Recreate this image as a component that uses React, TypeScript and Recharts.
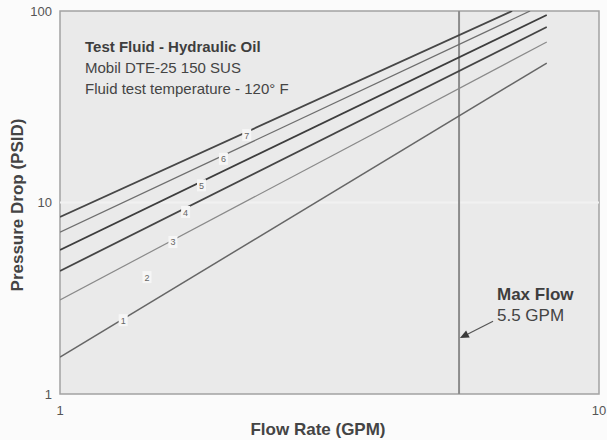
import React from 'react';
import { LineChart, Line, XAxis, YAxis, ReferenceLine, ReferenceArea, ReferenceDot } from 'recharts';

// Axis ticks
const flowTicks = [1, 10];
const pressureTicks = [1, 10, 100];
const maxFlowGpm = 5.5;

// Curves (Flow Rate GPM -> Pressure Drop PSID)
const curve1 = [{ flow: 1, dp: 1.56 }, { flow: 8, dp: 53.5 }];
const curve3 = [{ flow: 1, dp: 3.1 }, { flow: 8, dp: 68.9 }];
const curve4 = [{ flow: 1, dp: 4.39 }, { flow: 8, dp: 82.5 }];
const curve5 = [{ flow: 1, dp: 5.65 }, { flow: 8, dp: 95.3 }];
const curve6 = [{ flow: 1, dp: 7.0 }, { flow: 7.45, dp: 100 }];
const curve7 = [{ flow: 1, dp: 8.4 }, { flow: 6.9, dp: 100 }];

// Curve number labels
const curveLabels = ['1', '2', '3', '4', '5', '6', '7'];
const labelFlow = [1.31, 1.45, 1.62, 1.71, 1.83, 2.01, 2.22];
const labelDp = [2.43, 4.08, 6.22, 8.92, 12.3, 16.9, 22.5];

// Max flow arrow (tail -> tip)
const arrowFlow = [6.36, 5.52];
const arrowDp = [2.4, 1.96];

const FONT = '"Liberation Sans", Arial, Helvetica, sans-serif';

const LabelBox = (props: any) => {
  const { cx, cy, text } = props;
  if (cx == null || cy == null) return null;
  return (
    <g>
      <rect x={cx - 4.5} y={cy - 6} width={9} height={12} fill="#f6f6f6" />
      <text x={cx} y={cy + 3.5} textAnchor="middle" fontSize={9} fill="#666" fontFamily={FONT}>
        {text}
      </text>
    </g>
  );
};

const ArrowShape = (props: any) => {
  const { x1, y1, x2, y2 } = props;
  if ([x1, y1, x2, y2].some((v) => v == null || isNaN(v))) return null;
  const dx = x2 - x1;
  const dy = y2 - y1;
  const len = Math.sqrt(dx * dx + dy * dy) || 1;
  const ux = dx / len;
  const uy = dy / len;
  const hl = 9;
  const hw = 4;
  const bx = x2 - ux * hl;
  const by = y2 - uy * hl;
  const pts = `${x2},${y2} ${bx - uy * hw},${by + ux * hw} ${bx + uy * hw},${by - ux * hw}`;
  return (
    <g>
      <line x1={x1} y1={y1} x2={bx} y2={by} stroke="#555" strokeWidth={1.2} />
      <polygon points={pts} fill="#3a3a3a" />
    </g>
  );
};

export default function App() {
  return (
    <div style={{ position: 'absolute', left: 0, top: 0, width: 607, height: 440, background: '#fbfbfb', fontFamily: FONT }}>
      <LineChart
        width={607}
        height={440}
        margin={{ top: 11, right: 8, bottom: 16, left: 0 }}
        style={{ fontFamily: FONT }}
      >
        <XAxis
          dataKey="flow"
          type="number"
          scale="log"
          domain={[1, 10]}
          ticks={flowTicks}
          allowDataOverflow
          height={30}
          axisLine={false}
          tickLine={false}
          tickMargin={6}
          tick={{ fontSize: 13, fill: '#555', fontFamily: FONT }}
        />
        <YAxis
          type="number"
          scale="log"
          domain={[1, 100]}
          ticks={pressureTicks}
          allowDataOverflow
          width={60}
          axisLine={false}
          tickLine={false}
          tick={{ fontSize: 13, fill: '#555', fontFamily: FONT }}
        />
        <ReferenceArea x1={1} x2={10} y1={1} y2={100} fill="#eaeaea" fillOpacity={1} stroke="#a3a3a3" strokeWidth={1.5} />
        <ReferenceLine y={10} stroke="#f1f1f1" strokeWidth={2} />
        <ReferenceLine x={maxFlowGpm} stroke="#8c8c8c" strokeWidth={2} />

        <Line data={curve1} dataKey="dp" type="linear" stroke="#666" strokeWidth={1.5} dot={false} isAnimationActive={false} />
        <Line data={curve3} dataKey="dp" type="linear" stroke="#8a8a8a" strokeWidth={1.2} dot={false} isAnimationActive={false} />
        <Line data={curve4} dataKey="dp" type="linear" stroke="#454545" strokeWidth={1.8} dot={false} isAnimationActive={false} />
        <Line data={curve5} dataKey="dp" type="linear" stroke="#3d3d3d" strokeWidth={1.8} dot={false} isAnimationActive={false} />
        <Line data={curve6} dataKey="dp" type="linear" stroke="#6e6e6e" strokeWidth={1.3} dot={false} isAnimationActive={false} />
        <Line data={curve7} dataKey="dp" type="linear" stroke="#474747" strokeWidth={1.8} dot={false} isAnimationActive={false} />

        {curveLabels.map((t, i) => (
          <ReferenceDot
            key={t}
            x={labelFlow[i]}
            y={labelDp[i]}
            r={0}
            shape={(p: any) => <LabelBox {...p} text={t} />}
          />
        ))}

        <ReferenceLine
          segment={[
            { x: arrowFlow[0], y: arrowDp[0] },
            { x: arrowFlow[1], y: arrowDp[1] },
          ]}
          shape={(p: any) => <ArrowShape {...p} />}
        />
      </LineChart>

      {/* Annotations */}
      <div style={{ position: 'absolute', left: 85, top: 36, fontSize: 15, lineHeight: '21px', color: '#444' }}>
        <div style={{ fontWeight: 'bold', color: '#3e3e3e' }}>Test Fluid - Hydraulic Oil</div>
        <div>Mobil DTE-25 150 SUS</div>
        <div>Fluid test temperature - 120° F</div>
      </div>
      <div style={{ position: 'absolute', left: 497, top: 284, fontSize: 17, lineHeight: '21px', color: '#444' }}>
        <div style={{ fontWeight: 'bold', color: '#3e3e3e' }}>Max Flow</div>
        <div>5.5 GPM</div>
      </div>

      {/* Axis titles */}
      <div
        style={{
          position: 'absolute',
          left: 318,
          top: 430,
          transform: 'translate(-50%, -50%)',
          fontSize: 17,
          fontWeight: 'bold',
          color: '#444',
          whiteSpace: 'nowrap',
        }}
      >
        Flow Rate (GPM)
      </div>
      <div
        style={{
          position: 'absolute',
          left: 18,
          top: 205,
          transform: 'translate(-50%, -50%) rotate(-90deg)',
          fontSize: 17,
          fontWeight: 'bold',
          color: '#444',
          whiteSpace: 'nowrap',
        }}
      >
        Pressure Drop (PSID)
      </div>
    </div>
  );
}
